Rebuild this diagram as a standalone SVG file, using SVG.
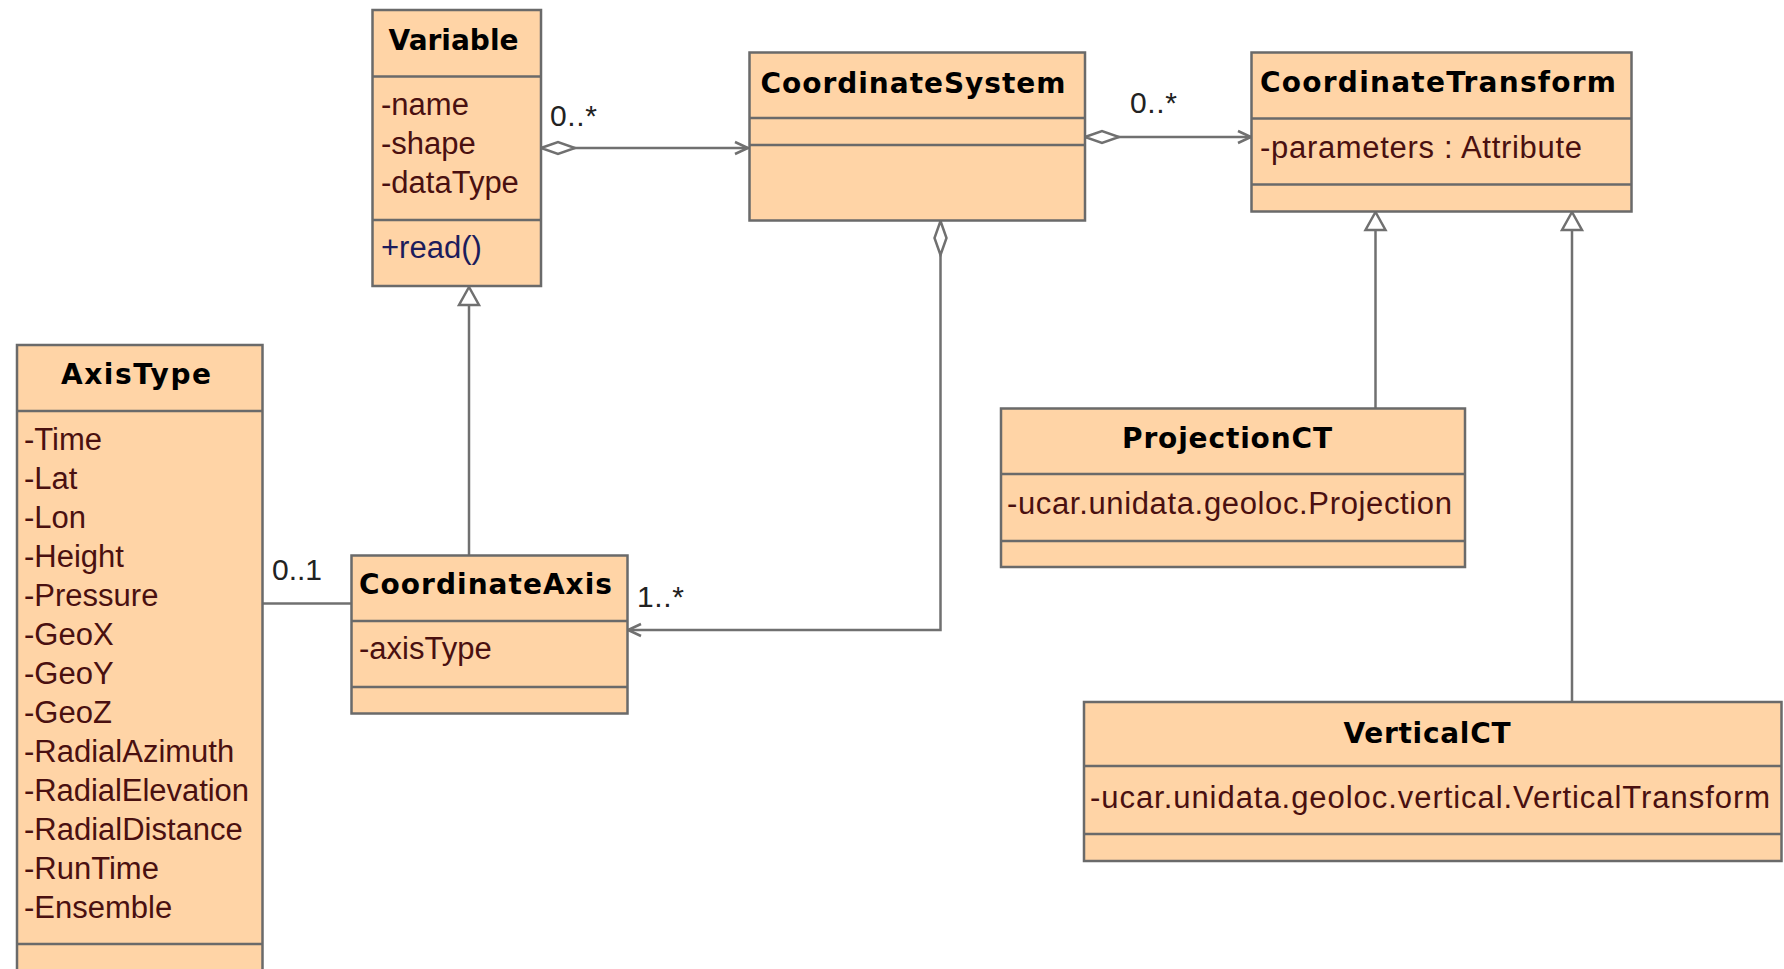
<svg xmlns="http://www.w3.org/2000/svg" width="1784" height="969" viewBox="0 0 1784 969">
<style>
.box{fill:#ffd4a6;stroke:#6a6a6a;stroke-width:2.5}
.div{stroke:#6a6a6a;stroke-width:2.5}
.title{font-family:"DejaVu Sans",Verdana,sans-serif;font-weight:bold;font-size:28px;fill:#000;text-anchor:middle}
.attr{font-family:"Liberation Sans",Arial,sans-serif;font-size:31px;fill:#4a1010}
.op{font-family:"Liberation Sans",Arial,sans-serif;font-size:31px;fill:#1c1c5c}
.lbl{font-family:"Liberation Sans",Arial,sans-serif;font-size:30px;fill:#222}
.conn{fill:none;stroke:#707070;stroke-width:2.5}
.tri{fill:#fff;stroke:#707070;stroke-width:2.5;stroke-linejoin:miter}
</style>
<defs>
<marker id="diamond" markerUnits="userSpaceOnUse" markerWidth="40" markerHeight="20" refX="0" refY="7" orient="auto" overflow="visible">
<path d="M0,7 L17,1 L34,7 L17,13 Z" fill="#fff" stroke="#707070" stroke-width="2.5"/>
</marker>
<marker id="open" markerUnits="userSpaceOnUse" markerWidth="20" markerHeight="20" refX="14" refY="7" orient="auto" overflow="visible">
<path d="M1,1 L14,7 L1,13" fill="none" stroke="#707070" stroke-width="2.5"/>
</marker>
</defs>
<rect width="1784" height="969" fill="#fff"/>

<g id="connectors">
<line class="conn" x1="541" y1="148" x2="748" y2="148" marker-start="url(#diamond)" marker-end="url(#open)"/>
<line class="conn" x1="1085" y1="137" x2="1251" y2="137" marker-start="url(#diamond)" marker-end="url(#open)"/>
<polyline class="conn" points="940.5,221 940.5,630 628,630" marker-start="url(#diamond)" marker-end="url(#open)"/>
<line class="conn" x1="469" y1="555" x2="469" y2="305"/>
<path class="tri" d="M469,287 L459,305 L479,305 Z"/>
<line class="conn" x1="1375.5" y1="408" x2="1375.5" y2="230"/>
<path class="tri" d="M1375.5,212 L1365.5,230 L1385.5,230 Z"/>
<line class="conn" x1="1572" y1="702" x2="1572" y2="230"/>
<path class="tri" d="M1572,212 L1562,230 L1582,230 Z"/>
<line class="conn" x1="263" y1="603.5" x2="351" y2="603.5"/>
<text class="lbl" x="550" y="126" textLength="47">0..*</text>
<text class="lbl" x="1130" y="113" textLength="47">0..*</text>
<text class="lbl" x="637" y="607" textLength="47">1..*</text>
<text class="lbl" x="272" y="580" textLength="50">0..1</text>
</g>

<g id="Variable">
<rect class="box" x="372.5" y="10" width="168.5" height="276"/>
<line class="div" x1="372.5" y1="76.5" x2="541" y2="76.5"/>
<line class="div" x1="372.5" y1="220" x2="541" y2="220"/>
<text class="title" x="453.5" y="50" textLength="130">Variable</text>
<text class="attr" x="381" y="115">-name</text>
<text class="attr" x="381" y="154">-shape</text>
<text class="attr" x="381" y="193">-dataType</text>
<text class="op" x="381" y="258">+read()</text>
</g>

<g id="CoordinateSystem">
<rect class="box" x="749.5" y="52.5" width="335.5" height="168"/>
<line class="div" x1="749.5" y1="118" x2="1085" y2="118"/>
<line class="div" x1="749.5" y1="145" x2="1085" y2="145"/>
<text class="title" x="913" y="93" textLength="305">CoordinateSystem</text>
</g>

<g id="CoordinateTransform">
<rect class="box" x="1251.5" y="52.5" width="380" height="159"/>
<line class="div" x1="1251.5" y1="118.5" x2="1631.5" y2="118.5"/>
<line class="div" x1="1251.5" y1="184.5" x2="1631.5" y2="184.5"/>
<text class="title" x="1438" y="92" textLength="356">CoordinateTransform</text>
<text class="attr" x="1260" y="158" textLength="322">-parameters : Attribute</text>
</g>

<g id="AxisType">
<rect class="box" x="17" y="345" width="245.5" height="640"/>
<line class="div" x1="17" y1="411" x2="262.5" y2="411"/>
<line class="div" x1="17" y1="944" x2="262.5" y2="944"/>
<text class="title" x="136" y="384" textLength="150">AxisType</text>
<text class="attr" x="24" y="450">-Time</text>
<text class="attr" x="24" y="489">-Lat</text>
<text class="attr" x="24" y="528">-Lon</text>
<text class="attr" x="24" y="567">-Height</text>
<text class="attr" x="24" y="606">-Pressure</text>
<text class="attr" x="24" y="645">-GeoX</text>
<text class="attr" x="24" y="684">-GeoY</text>
<text class="attr" x="24" y="723">-GeoZ</text>
<text class="attr" x="24" y="762">-RadialAzimuth</text>
<text class="attr" x="24" y="801" textLength="225">-RadialElevation</text>
<text class="attr" x="24" y="840">-RadialDistance</text>
<text class="attr" x="24" y="879">-RunTime</text>
<text class="attr" x="24" y="918">-Ensemble</text>
</g>

<g id="CoordinateAxis">
<rect class="box" x="351.5" y="555.5" width="276" height="158"/>
<line class="div" x1="351.5" y1="621" x2="627.5" y2="621"/>
<line class="div" x1="351.5" y1="687" x2="627.5" y2="687"/>
<text class="title" x="485.5" y="594" textLength="253">CoordinateAxis</text>
<text class="attr" x="359" y="659">-axisType</text>
</g>

<g id="ProjectionCT">
<rect class="box" x="1001" y="408.5" width="464" height="158.5"/>
<line class="div" x1="1001" y1="474" x2="1465" y2="474"/>
<line class="div" x1="1001" y1="541" x2="1465" y2="541"/>
<text class="title" x="1227" y="448" textLength="210">ProjectionCT</text>
<text class="attr" x="1007" y="514" textLength="445">-ucar.unidata.geoloc.Projection</text>
</g>

<g id="VerticalCT">
<rect class="box" x="1084" y="702" width="697.5" height="159"/>
<line class="div" x1="1084" y1="766" x2="1781.5" y2="766"/>
<line class="div" x1="1084" y1="834" x2="1781.5" y2="834"/>
<text class="title" x="1427" y="743" textLength="167">VerticalCT</text>
<text class="attr" x="1090" y="808" textLength="680">-ucar.unidata.geoloc.vertical.VerticalTransform</text>
</g>
</svg>
